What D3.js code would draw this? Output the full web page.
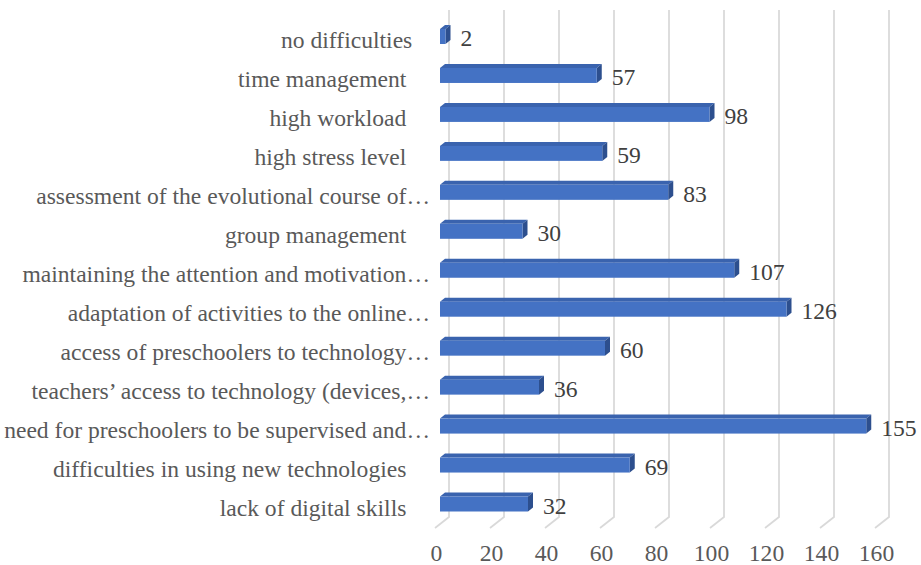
<!DOCTYPE html>
<html>
<head>
    <meta charset="utf-8">
    <title>Difficulties</title>
    <script src="https://d3js.org/d3.v7.min.js"></script>
    <style>
        body { margin: 0; background: #fff; }
        text { font-family: "Liberation Serif", "Times New Roman", serif; }
        .cat text { white-space: pre; }
    </style>
</head>
<body>
<div id="chart"></div>
<script type="text/javascript">
    // categories top to bottom (trailing spaces as in the source labels)
    const categories = [
        'no difficulties   ',
        'time management    ',
        'high workload    ',
        'high stress level    ',
        'assessment of the evolutional course of…',
        'group management    ',
        'maintaining the attention and motivation…',
        'adaptation of activities to the online…',
        'access of preschoolers to technology…',
        'teachers’ access to technology (devices,…',
        'need for preschoolers to be supervised and…',
        'difficulties in using new technologies    ',
        'lack of digital skills    '
    ];
    const values = [2, 57, 98, 59, 83, 30, 107, 126, 60, 36, 155, 69, 32];
    const xTicks = [0, 20, 40, 60, 80, 100, 120, 140, 160];

    const width = 921;
    const height = 565;
    const fontSize = '23.6px';

    const barH = 15;       // front face height
    const depthX = 5;      // 3d depth of bars
    const depthY = -4;
    const wallX = 9;       // back wall offset of gridlines
    const wallTop = 10;
    const wallBottom = 517;
    const floorDx = -14, floorDy = 11;

    const svg = d3.select('#chart').append('svg')
        .attr('width', width).attr('height', height);

    const x = d3.scaleLinear().domain([0, 160]).range([440, 880]);
    const y = d3.scalePoint().domain(categories).range([36.5, 504]);

    // gridlines on the back wall + floor
    const grid = svg.append('g');
    grid.selectAll('path')
        .data(xTicks)
        .enter()
        .append('path')
        .attr('d', d => `M${x(d) + wallX},${wallTop} V${wallBottom} l${floorDx},${floorDy}`)
        .attr('fill', 'none')
        .attr('stroke', '#d9d9d9')
        .attr('stroke-width', 1.75);

    // x axis labels
    const xAxis = d3.axisBottom(x).tickValues(xTicks).tickSize(0).tickPadding(0);
    const gx = svg.append('g')
        .attr('transform', `translate(-4,${544})`)
        .call(xAxis);
    gx.select('.domain').remove();
    gx.selectAll('text')
        .attr('fill', '#595959')
        .style('font-size', fontSize)
        .attr('dy', '0.71em');

    // category labels
    const yAxis = d3.axisLeft(y).tickSize(0).tickPadding(0);
    const gy = svg.append('g')
        .attr('class', 'cat')
        .attr('transform', 'translate(430,3.5)')
        .call(yAxis);
    gy.select('.domain').remove();
    gy.selectAll('text')
        .attr('fill', '#595959')
        .style('font-size', fontSize);

    // 3d bars
    const bars = svg.append('g').selectAll('g')
        .data(values.map((v, i) => ({v: v, c: categories[i]})))
        .enter()
        .append('g');

    const x0 = x(0);
    // top face
    bars.append('path')
        .attr('d', d => {
            const x1 = x(d.v), yt = y(d.c) - barH / 2;
            return `M${x0},${yt} L${x0 + depthX},${yt + depthY} L${x1 + depthX},${yt + depthY} L${x1},${yt} Z`;
        })
        .attr('fill', '#3a63ae');
    // side face
    bars.append('path')
        .attr('d', d => {
            const x1 = x(d.v), yt = y(d.c) - barH / 2;
            return `M${x1},${yt} L${x1 + depthX},${yt + depthY} L${x1 + depthX},${yt + depthY + barH} L${x1},${yt + barH} Z`;
        })
        .attr('fill', '#2d4f8e');
    // front face
    bars.append('rect')
        .attr('x', x0)
        .attr('y', d => y(d.c) - barH / 2)
        .attr('width', d => x(d.v) - x0)
        .attr('height', barH)
        .attr('fill', '#4472c4');

    // value labels
    bars.append('text')
        .attr('x', d => x(d.v) + depthX + 10)
        .attr('y', d => y(d.c) + 1.5)
        .attr('dy', '0.35em')
        .attr('fill', '#404040')
        .style('font-size', fontSize)
        .text(d => d.v);
</script>
</body>
</html>
